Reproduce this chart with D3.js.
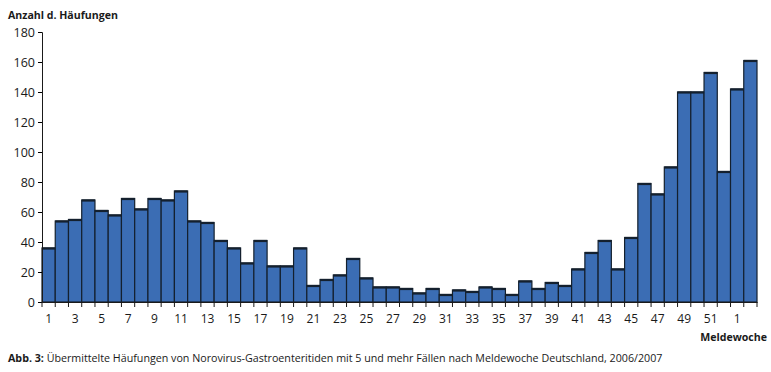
<!DOCTYPE html>
<html>
<head>
<meta charset="utf-8">
<script src="https://cdn.jsdelivr.net/npm/d3@7"></script>
<style>
  body { margin: 0; background: #fff; }
  text { font-family: "Open Sans", sans-serif; fill: #1a1a1a; }
</style>
</head>
<body>
<div id="chart"></div>
<script>
// weeks 1..52 of 2006, then weeks 1..2 of 2007
const weeks = d3.range(1, 53).concat([1, 2])
const counts = [36, 54, 55, 68, 61, 58, 69, 62, 69, 68,
    74, 54, 53, 41, 36, 26, 41, 24, 24, 36,
    11, 15, 18, 29, 16, 10, 10, 9, 6, 9,
    5, 8, 7, 10, 9, 5, 14, 9, 13, 11,
    22, 33, 41, 22, 43, 79, 72, 90, 140, 140,
    153, 87, 142, 161]
const yTicks = [0, 20, 40, 60, 80, 100, 120, 140, 160, 180]

const margin = { top: 32, right: 14, bottom: 70, left: 42 },
    width = 771 - margin.left - margin.right,
    height = 372 - margin.top - margin.bottom;

const svgRoot = d3.select("#chart")
    .append("svg")
    .attr("width", 771)
    .attr("height", 372)

const svg = svgRoot.append("g")
    .attr("transform", `translate(${margin.left}, ${margin.top})`);

const data = counts.map((c, i) => ({ key: i, week: weeks[i], value: c }))

const x = d3.scaleBand()
    .range([0, width])
    .domain(data.map(d => d.key))
    .padding(0);

const y = d3.scaleLinear()
    .range([height, 0])
    .domain([0, 180]);

// bars
svg.selectAll("rect.bar")
    .data(data)
    .join("rect")
    .attr("class", "bar")
    .attr("x", d => x(d.key))
    .attr("y", d => y(d.value))
    .attr("width", x.bandwidth())
    .attr("height", d => height - y(d.value))
    .style("fill", "#3b6db4")
    .style("stroke", "#14202e")
    .style("stroke-width", 1.2)

// darker top edge
svg.selectAll("line.top")
    .data(data)
    .join("line")
    .attr("class", "top")
    .attr("x1", d => x(d.key))
    .attr("x2", d => x(d.key) + x.bandwidth())
    .attr("y1", d => y(d.value) + 0.5)
    .attr("y2", d => y(d.value) + 0.5)
    .style("stroke", "#14202e")
    .style("stroke-width", 2.2)

// y axis
const yAxis = svg.append("g")
    .call(d3.axisLeft(y).tickValues(yTicks).tickSize(4).tickPadding(3))
yAxis.selectAll("text").style("font-size", "12.5px")
yAxis.select(".domain").style("stroke", "#1a1a1a")

// x axis: ticks at band boundaries, labels on odd bars
const xAxis = svg.append("g")
    .attr("transform", `translate(0, ${height})`)
    .call(d3.axisBottom(x).tickSize(0).tickPadding(12)
        .tickFormat((k, i) => i % 2 === 0 ? weeks[k] : ""))
xAxis.select(".domain").style("stroke", "#1a1a1a").style("stroke-width", 1.2)
xAxis.selectAll("text").style("font-size", "12px")

const bounds = data.map(d => x(d.key)).concat([width])
svg.append("g")
    .selectAll("line")
    .data(bounds)
    .join("line")
    .attr("x1", d => d)
    .attr("x2", d => d)
    .attr("y1", height)
    .attr("y2", height + 5)
    .style("stroke", "#1a1a1a")

// titles
svgRoot.append("text")
    .attr("x", 8)
    .attr("y", 19)
    .style("font-size", "10.6px")
    .style("font-weight", "bold")
    .text("Anzahl d. Häufungen")

svgRoot.append("text")
    .attr("x", 767)
    .attr("y", 341)
    .attr("text-anchor", "end")
    .style("font-size", "10.6px")
    .style("font-weight", "bold")
    .text("Meldewoche")

const cap = svgRoot.append("text")
    .attr("x", 8)
    .attr("y", 362)
    .style("font-size", "10.7px")
cap.append("tspan").style("font-weight", "bold").text("Abb. 3: ")
cap.append("tspan").text(" Übermittelte Häufungen von Norovirus-Gastroenteritiden mit 5 und mehr Fällen nach Meldewoche Deutschland, 2006/2007")
</script>
</body>
</html>
